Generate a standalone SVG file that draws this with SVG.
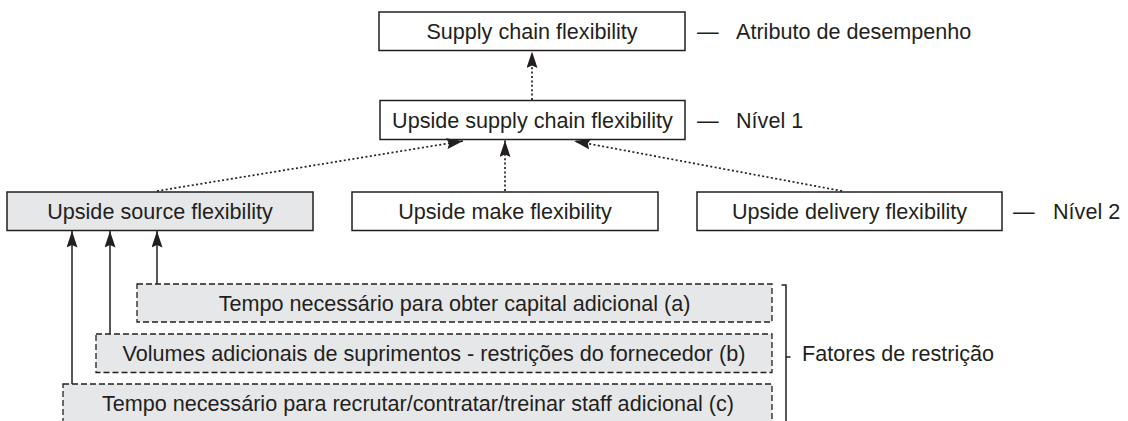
<svg xmlns="http://www.w3.org/2000/svg" width="1128" height="421" viewBox="0 0 1128 421">
  <style>
    .box { fill: #ffffff; stroke: #231f20; stroke-width: 1.5; }
    .box.shaded { fill: #e6e7e8; }
    .factor { fill: #e6e7e8; stroke: #231f20; stroke-width: 1.3; stroke-dasharray: 6 3; }
    .label { font-family: "Liberation Sans", Arial, sans-serif; font-size: 21.6px; fill: #231f20; }
    .center { text-anchor: middle; }
    .dotted { fill: none; stroke: #231f20; stroke-width: 1.7; stroke-dasharray: 2 2.4; }
    .solid { fill: none; stroke: #231f20; stroke-width: 1.5; }
  </style>
  <defs>
    <marker id="arrow" markerUnits="userSpaceOnUse" markerWidth="17" markerHeight="11" refX="16.5" refY="5.5" orient="auto">
      <path d="M0,0 L16.5,5.5 L0,11 L2.5,5.5 z" fill="#231f20"/>
    </marker>
  </defs>

  <rect width="1128" height="421" fill="#ffffff"/>

  <!-- performance attribute -->
  <g id="supply-chain-flexibility">
    <rect class="box" x="379" y="12" width="306" height="38.5"/>
    <text class="label center" x="532" y="38.5">Supply chain flexibility</text>
  </g>
  <g id="label-atributo">
    <text class="label" x="697" y="38.5">—<tspan x="736">Atributo de desempenho</tspan></text>
  </g>

  <!-- level 1 -->
  <g id="upside-supply-chain-flexibility">
    <rect class="box" x="380" y="100.5" width="305" height="39"/>
    <text class="label center" x="532.5" y="127.5">Upside supply chain flexibility</text>
  </g>
  <g id="label-nivel-1">
    <text class="label" x="697" y="127.5">—<tspan x="736">Nível 1</tspan></text>
  </g>

  <!-- level 2 -->
  <g id="upside-source-flexibility">
    <rect class="box shaded" x="7" y="192" width="306" height="38.5"/>
    <text class="label center" x="160" y="218.5">Upside source flexibility</text>
  </g>
  <g id="upside-make-flexibility">
    <rect class="box" x="352" y="192" width="306" height="38.5"/>
    <text class="label center" x="505" y="218.5">Upside make flexibility</text>
  </g>
  <g id="upside-delivery-flexibility">
    <rect class="box" x="697" y="192" width="305" height="38.5"/>
    <text class="label center" x="849.5" y="218.5">Upside delivery flexibility</text>
  </g>
  <g id="label-nivel-2">
    <text class="label" x="1013" y="218.5">—<tspan x="1053">Nível 2</tspan></text>
  </g>

  <!-- restriction factors -->
  <g id="factor-a">
    <rect class="factor" x="137" y="284" width="635" height="38"/>
    <text class="label center" x="454.5" y="310.5">Tempo necessário para obter capital adicional (a)</text>
  </g>
  <g id="factor-b">
    <rect class="factor" x="96" y="334" width="676" height="38.5"/>
    <text class="label center" x="434" y="360.5">Volumes adicionais de suprimentos - restrições do fornecedor (b)</text>
  </g>
  <g id="factor-c">
    <rect class="factor" x="63" y="384" width="709" height="40"/>
    <text class="label center" x="418" y="410.5">Tempo necessário para recrutar/contratar/treinar staff adicional (c)</text>
  </g>
  <g id="factors-brace">
    <path class="solid" d="M781.5,285 L786,285 L786,421 M786,357 L790.5,357"/>
    <text class="label" x="802" y="361">Fatores de restrição</text>
  </g>

  <!-- connectors -->
  <g id="connectors">
    <line class="dotted" x1="532" y1="100" x2="532" y2="51.5" marker-end="url(#arrow)"/>
    <line class="dotted" x1="157" y1="191" x2="463" y2="141" marker-end="url(#arrow)"/>
    <line class="dotted" x1="505" y1="191" x2="505" y2="140.5" marker-end="url(#arrow)"/>
    <line class="dotted" x1="842" y1="191" x2="574" y2="141" marker-end="url(#arrow)"/>
    <line class="solid" x1="157" y1="284" x2="157" y2="231" marker-end="url(#arrow)"/>
    <line class="solid" x1="110" y1="334" x2="110" y2="231" marker-end="url(#arrow)"/>
    <line class="solid" x1="72" y1="384" x2="72" y2="231" marker-end="url(#arrow)"/>
  </g>
</svg>
